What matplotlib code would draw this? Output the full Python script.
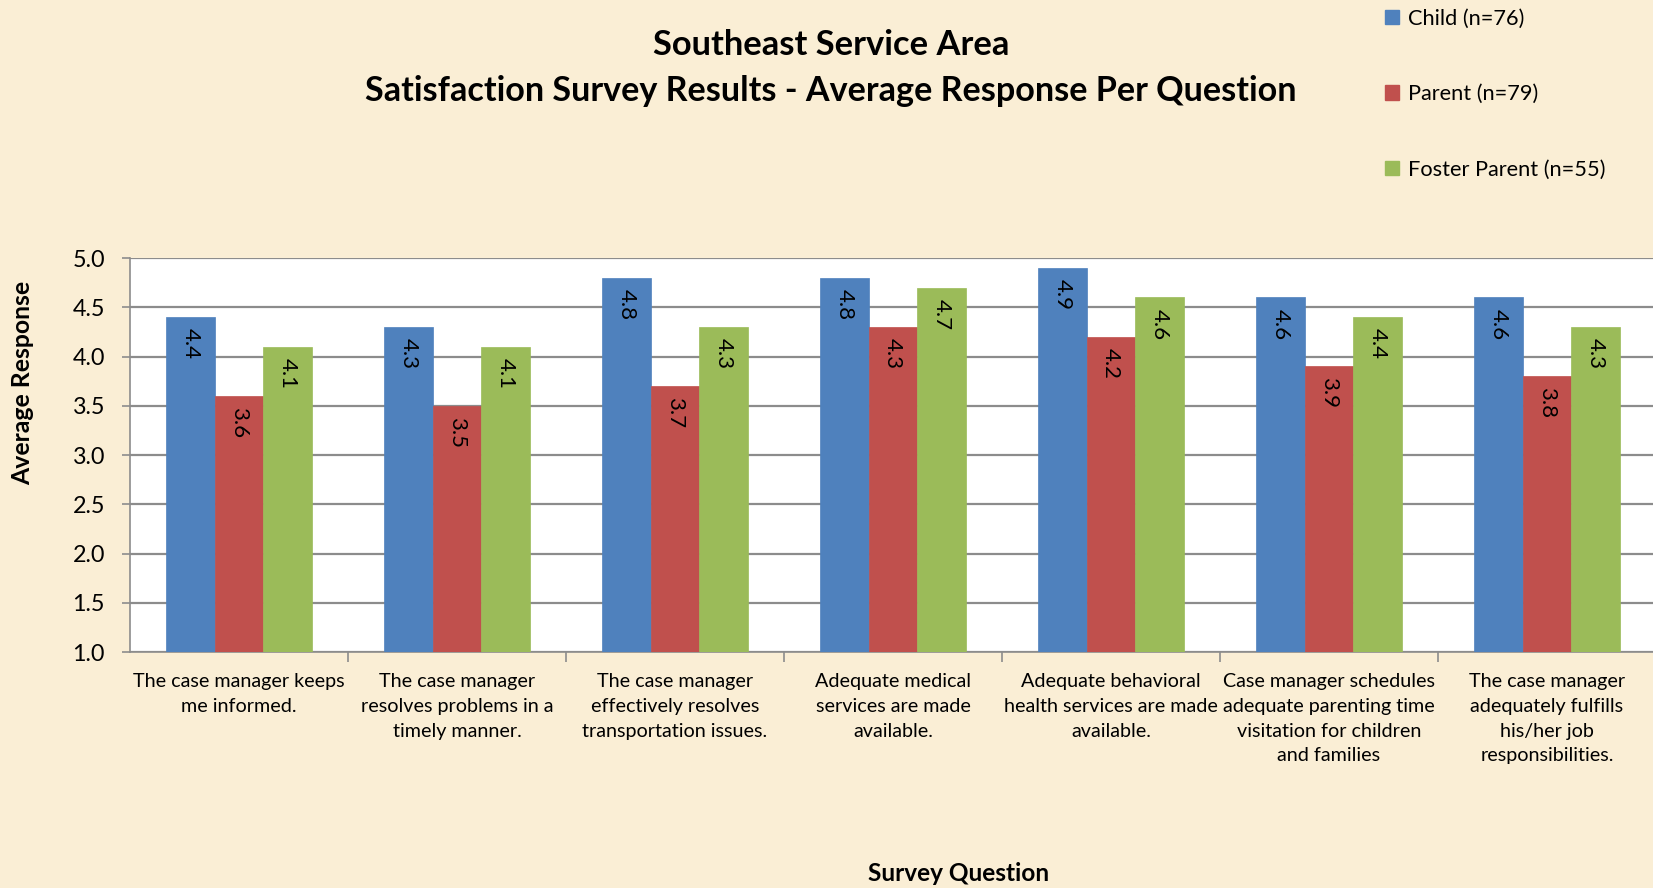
import numpy as np
import matplotlib.pyplot as plt
from matplotlib.patches import Patch

plt.rcParams['font.family'] = ['Lato', 'DejaVu Sans']

questions = ['The case manager keeps\nme informed.',
             'The case manager\nresolves problems in a\ntimely manner.',
             'The case manager\neffectively resolves\ntransportation issues.',
             'Adequate medical\nservices are made\navailable.',
             'Adequate behavioral\nhealth services are made\navailable.',
             'Case manager schedules\nadequate parenting time\nvisitation for children\nand families',
             'The case manager\nadequately fulfills\nhis/her job\nresponsibilities.']
series = ['Child (n=76)', 'Parent (n=79)', 'Foster Parent (n=55)']
child = [4.4, 4.3, 4.8, 4.8, 4.9, 4.6, 4.6]
parent = [3.6, 3.5, 3.7, 4.3, 4.2, 3.9, 3.8]
foster = [4.1, 4.1, 4.3, 4.7, 4.6, 4.4, 4.3]
colores = ['#4F81BD', '#C0504D', '#9BBB59']

fondo = '#FAEED5'
fig = plt.figure(figsize=(16.53, 8.88), dpi=100, facecolor=fondo)
ax = fig.add_axes([130/1653, 1 - 652/888, 1526/1653, (652 - 258)/888])
ax.set_facecolor('white')

x = np.arange(len(questions))
w = 0.223
for i, (vals, c) in enumerate(zip([child, parent, foster], colores)):
    barras = ax.bar(x + (i - 1) * w, vals, w, color=c, edgecolor=c, linewidth=0.5, zorder=3)
    for b, v in zip(barras, vals):
        ax.annotate(f'{v:.1f}', (b.get_x() + b.get_width() / 2, v), xytext=(0, -8),
                    textcoords='offset points', rotation=270, ha='center', va='top',
                    fontsize=16, color='black', zorder=4)

ax.set_ylim(1, 5)
ax.set_xlim(-0.5, len(questions) - 0.5)
ticks = np.arange(1, 5.01, 0.5)
ax.set_yticks(ticks)
ax.set_yticklabels([f'{t:.1f}' for t in ticks], fontsize=16.8)
ax.yaxis.grid(True, color='#8C8C8C', linewidth=1.6, zorder=0)
ax.set_axisbelow(True)

ax.set_xticks(x)
ax.set_xticklabels(questions, fontsize=14.2, linespacing=1.56)
ax.tick_params(axis='x', length=0, pad=15)
ax.set_xticks(np.arange(0.5, len(questions) - 0.5, 1), minor=True)
ax.tick_params(axis='x', which='minor', length=7, color='#8C8C8C', width=1.2)
ax.tick_params(axis='y', length=6, color='#8C8C8C', width=1.2, pad=12)

for lado in ['top', 'right']:
    ax.spines[lado].set_visible(False)
ax.spines['left'].set_color('#8C8C8C')
ax.spines['bottom'].set_color('#8C8C8C')
ax.spines['left'].set_linewidth(1.2)
ax.spines['bottom'].set_linewidth(1.2)

fig.text(23/1653, 1 - 383/888, 'Average Response', rotation=90, ha='center', va='center',
         fontsize=17.8, fontweight='bold')
fig.text(959/1653, 1 - 873/888, 'Survey Question', ha='center', va='center',
         fontsize=17.6, fontweight='bold')
fig.text(831/1653, 1 - 45/888, 'Southeast Service Area', ha='center', va='center',
         fontsize=24.8, fontweight='bold')
fig.text(831/1653, 1 - 91/888, 'Satisfaction Survey Results - Average Response Per Question',
         ha='center', va='center', fontsize=24.6, fontweight='bold')

manijas = [Patch(color=c) for c in colores]
fig.legend(manijas, series, loc='upper left', bbox_to_anchor=(1365/1653, 1 + 11/888),
           frameon=False, fontsize=15.7, handlelength=0.65, handleheight=0.65,
           handletextpad=0.4, labelspacing=2.55)

fig.savefig('out.png', dpi=100, facecolor=fondo)
